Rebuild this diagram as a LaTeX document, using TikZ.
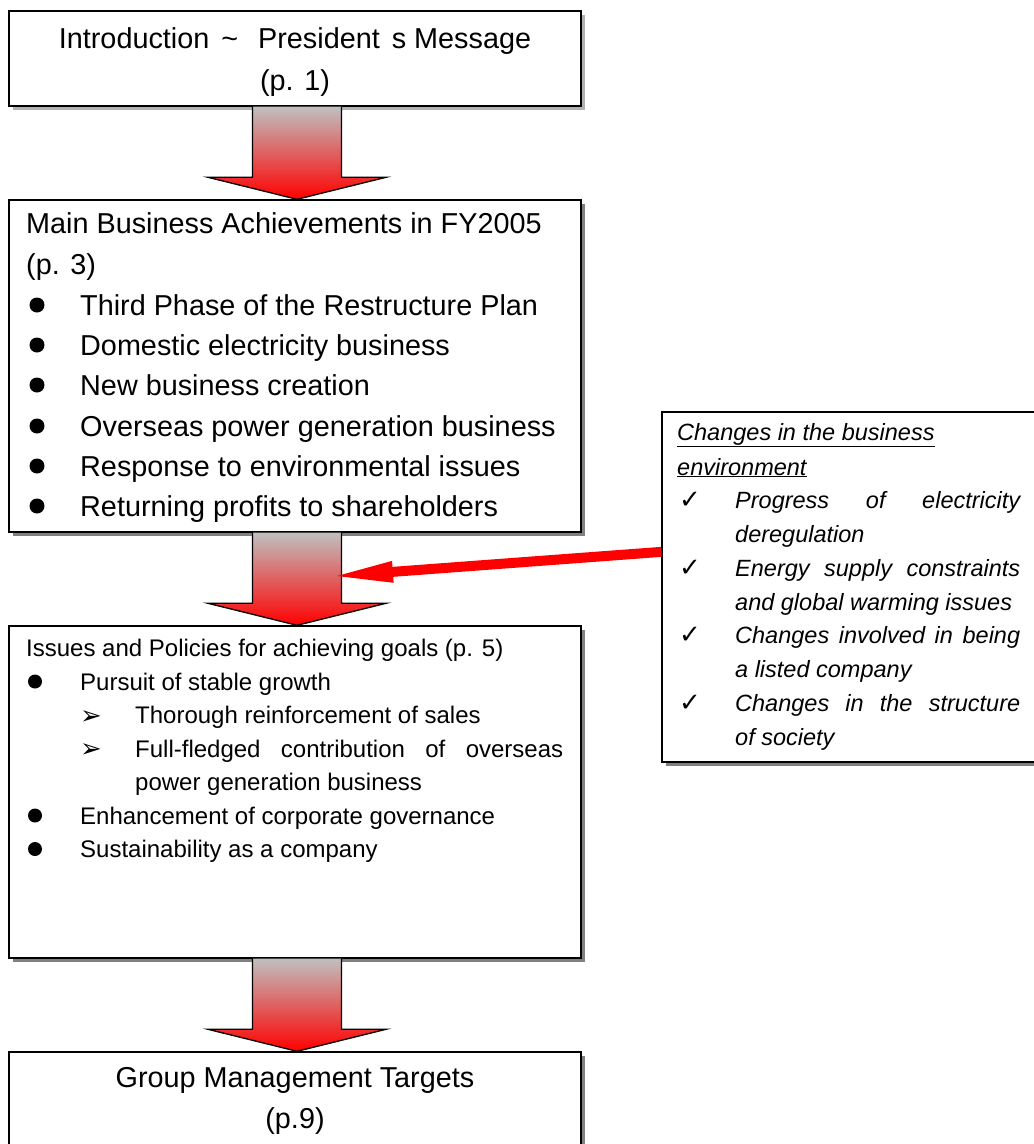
\documentclass[tikz,border=0pt]{standalone}
\usepackage{fontspec}
\setmainfont{Liberation Sans}
\newfontfamily\symfont{DejaVu Sans}
\usetikzlibrary{calc,shadows}
\definecolor{agray}{RGB}{192,192,192}
\definecolor{shgray}{RGB}{128,128,128}
\definecolor{stipple}{RGB}{178,178,178}
\newcommand\myblockarrow[2]{%
  \shade[top color=agray,bottom color=red]
    ($(#1)+(-44.5,0)$) -- ($(#2)+(-44.5,-22)$) -- ($(#2)+(-89,-22)$) -- (#2) --
    ($(#2)+(89,-22)$) -- ($(#2)+(44.5,-22)$) -- ($(#1)+(44.5,0)$) -- cycle;
  \draw[line width=1.3pt,line join=miter]
    ($(#1)+(-44.5,0)$) -- ($(#2)+(-44.5,-22)$) -- ($(#2)+(-89,-22)$) -- (#2) --
    ($(#2)+(89,-22)$) -- ($(#2)+(44.5,-22)$) -- ($(#1)+(44.5,0)$);
}
\begin{document}
\begin{tikzpicture}[x=1pt,y=-1pt,
  box/.style={draw=black,line width=1.4pt,fill=white,rectangle,inner sep=0pt},
  solidshadow/.style={drop shadow={shadow xshift=4pt,shadow yshift=-4pt,opacity=1,fill=shgray}},
  dotshadow/.style={drop shadow={shadow xshift=4pt,shadow yshift=-4pt,opacity=1,fill=stipple}},
  big/.style={font=\fontsize{28.8}{40}\selectfont,inner sep=0pt},
  mid/.style={font=\fontsize{24}{33}\selectfont,inner sep=0pt},
  side/.style={font=\fontsize{23.5}{34}\selectfont\itshape,inner sep=0pt},
  dotbul/.style={circle,fill=black,inner sep=0pt,minimum size=#1},
  chk/.style={font=\symfont\fontsize{26}{26}\selectfont,inner sep=0pt,anchor=base west},
  arr/.style={font=\symfont\fontsize{26}{26}\selectfont,inner sep=0pt,anchor=base west}
]
\useasboundingbox (0,0) rectangle (1034,1144);
\fill[white] (0,0) rectangle (1034,1144);
\clip (0,0) rectangle (1034,1144);

% boxes
\node[box,dotshadow,minimum width=572pt,minimum height=95pt] (b1) at (295,58.5) {};
\node[box,solidshadow,minimum width=572pt,minimum height=332pt] (b2) at (295,366) {};
\node[box,solidshadow,minimum width=572pt,minimum height=332pt] (b3) at (295,792) {};
\node[box,solidshadow,minimum width=572pt,minimum height=140pt] (b4) at (295,1122) {};
\node[box,solidshadow,minimum width=383pt,minimum height=350pt] (rbox) at (853.5,587) {};

% block arrows
\coordinate (a1t) at ($(b1.south)+(2,0)$);
\coordinate (a1b) at ($(b2.north)+(2,0)$);
\coordinate (a2t) at ($(b2.south)+(2,0)$);
\coordinate (a2b) at ($(b3.north)+(2,0)$);
\coordinate (a3t) at ($(b3.south)+(2,0)$);
\coordinate (a3b) at ($(b4.north)+(2,0)$);
\myblockarrow{a1t}{a1b}
\myblockarrow{a2t}{a2b}
\myblockarrow{a3t}{a3b}

% red connector
\coordinate (rs) at ($(rbox.north west)!0.4!(rbox.south west)$);
\coordinate (rtip) at (337,576);
\coordinate (rhb) at ($(rtip)!56pt!(rs)$);
\draw[red,line width=10pt] (rs) -- ($(rhb)!2pt!(rtip)$);
\fill[red] (rtip) -- ($(rhb)!11pt!90:(rtip)$) -- ($(rhb)!11pt!-90:(rtip)$) -- cycle;

% box 1 text
\node[big,anchor=base] (t1a) at (295,48) {Introduction\hspace{12pt}\textasciitilde\hspace{20pt}President\hspace{12pt}s Message};
\node[big,anchor=base] (t1b) at (295,90) {(p. 1)};

% box 2 text
\node[big,anchor=base west] (m1) at (26,233) {Main Business Achievements in FY2005};
\node[big,anchor=base west] (m2) at (26,274) {(p. 3)};
\node[dotbul=15pt] (md1) at (37,305) {};
\node[big,anchor=base west] (m3) at (80,315) {Third Phase of the Restructure Plan};
\node[dotbul=15pt] (md2) at (37,345) {};
\node[big,anchor=base west] (m4) at (80,355) {Domestic electricity business};
\node[dotbul=15pt] (md3) at (37,385) {};
\node[big,anchor=base west] (m5) at (80,395) {New business creation};
\node[dotbul=15pt] (md4) at (37,426) {};
\node[big,anchor=base west] (m6) at (80,436) {Overseas power generation business};
\node[dotbul=15pt] (md5) at (37,466) {};
\node[big,anchor=base west] (m7) at (80,476) {Response to environmental issues};
\node[dotbul=15pt] (md6) at (37,506) {};
\node[big,anchor=base west] (m8) at (80,516) {Returning profits to shareholders};

% box 3 text
\node[mid,anchor=base west] (p1) at (26,656.5) {Issues and Policies for achieving goals (p. 5)};
\node[dotbul=14pt] (pd1) at (35,681.5) {};
\node[mid,anchor=base west] (p2) at (80,690) {Pursuit of stable growth};
\node[arr] (pa1) at (80,724) {➢};
\node[mid,anchor=base west] (p3) at (135,723.5) {Thorough reinforcement of sales};
\node[arr] (pa2) at (80,757.5) {➢};
\node[mid,anchor=base west] (p4) at (135,757) {\makebox[428pt][s]{Full-fledged contribution of overseas}};
\node[mid,anchor=base west] (p5) at (135,790.5) {power generation business};
\node[dotbul=14pt] (pd2) at (35,815.5) {};
\node[mid,anchor=base west] (p6) at (80,824) {Enhancement of corporate governance};
\node[dotbul=14pt] (pd3) at (35,849) {};
\node[mid,anchor=base west] (p7) at (80,857.5) {Sustainability as a company};

% box 4 text
\node[big,anchor=base] (g1) at (295,1087) {Group Management Targets};
\node[big,anchor=base] (g2) at (295,1128) {(p.9)};

% right box text
\node[side,anchor=base west] (r1) at (677,440) {\underline{Changes in the business}};
\node[side,anchor=base west] (r2) at (677,475) {\underline{environment}};
\node[chk] (c1) at (679,508) {✓};
\node[side,anchor=base west] (r3) at (735,508) {\makebox[285pt][s]{Progress of electricity}};
\node[side,anchor=base west] (r4) at (735,542) {deregulation};
\node[chk] (c2) at (679,576) {✓};
\node[side,anchor=base west] (r5) at (735,576) {\makebox[285pt][s]{Energy supply constraints}};
\node[side,anchor=base west] (r6) at (735,610) {and global warming issues};
\node[chk] (c3) at (679,643) {✓};
\node[side,anchor=base west] (r7) at (735,643) {\makebox[285pt][s]{Changes involved in being}};
\node[side,anchor=base west] (r8) at (735,677) {a listed company};
\node[chk] (c4) at (679,711) {✓};
\node[side,anchor=base west] (r9) at (735,711) {\makebox[285pt][s]{Changes in the structure}};
\node[side,anchor=base west] (r10) at (735,745) {of society};
\end{tikzpicture}
\end{document}
